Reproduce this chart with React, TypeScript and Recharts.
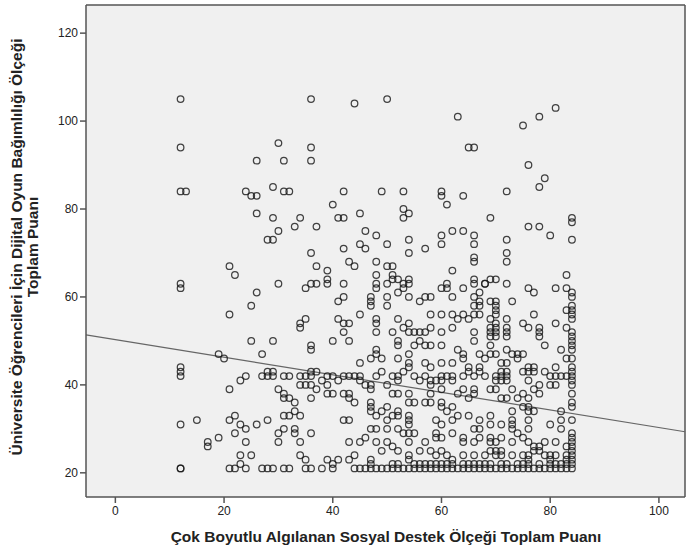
import React from 'react';
import { ScatterChart, Scatter, XAxis, YAxis, CartesianGrid, ReferenceLine } from 'recharts';

type Pt = [number, number];

// support score (x) / addiction score (y)
const topScores: Pt[] = [
  [12, 105], [12, 94], [30, 95], [26, 91], [31, 91], [36, 105], [44, 104], [50, 105],
  [63, 101], [65, 94], [66, 94], [36, 94], [36, 91], [75, 99], [78, 101], [81, 103],
  [76, 90], [79, 87], [78, 85], [29, 85],
];

const lowSupport: Pt[] = [
  [12, 84], [13, 84], [24, 84], [25, 83], [26, 83], [31, 84], [26, 79], [29, 78], [30, 75],
  [28, 73], [29, 73], [21, 67], [22, 65], [12, 63], [12, 62], [30, 63], [26, 61], [25, 58],
  [21, 56], [25, 50], [29, 50], [19, 47], [20, 46], [27, 47], [12, 44], [12, 43], [12, 42],
  [23, 41], [24, 42], [27, 42], [28, 43], [28, 42], [29, 43], [29, 42], [31, 42], [21, 39],
  [30, 39], [31, 37], [12, 31], [15, 32], [21, 32], [22, 33], [23, 31], [24, 30], [26, 31],
  [28, 32], [22, 29], [30, 29], [31, 30], [31, 33], [17, 27], [17, 26], [19, 28], [24, 27],
  [30, 27], [23, 24], [25, 24], [23, 22], [12, 21], [12, 21], [21, 21], [22, 21], [24, 21],
  [27, 21], [28, 21], [29, 21], [31, 21],
];

const midUpper: Pt[] = [
  [32, 84], [42, 84], [49, 84], [53, 84], [60, 84], [60, 83], [64, 83], [40, 81], [61, 81],
  [34, 78], [41, 78], [42, 78], [45, 79], [53, 80], [54, 79], [53, 78], [33, 76], [37, 76],
  [46, 75], [48, 74], [62, 75], [64, 75], [60, 74], [66, 74], [54, 73], [45, 72], [50, 72],
  [60, 72], [66, 72], [42, 71], [46, 71], [57, 71], [36, 70], [54, 70], [66, 69], [66, 68],
  [43, 68], [44, 67], [48, 68], [37, 67], [50, 67], [51, 67], [39, 66], [62, 66], [48, 65],
  [51, 65], [39, 64], [39, 63], [51, 64], [52, 64], [54, 64], [66, 64], [36, 63], [37, 63],
  [35, 62], [42, 63], [48, 63], [48, 62], [50, 63], [53, 63], [54, 63], [61, 63], [66, 63],
  [68, 63], [53, 62], [60, 62], [61, 62], [64, 62], [52, 61], [67, 61], [42, 60], [41, 59],
  [47, 60], [47, 59], [47, 58], [50, 60], [54, 60], [56, 59], [57, 60], [58, 60], [62, 60],
  [66, 60], [67, 59], [66, 58], [67, 58], [50, 58], [45, 56], [52, 55], [58, 56], [60, 56],
  [62, 56], [64, 56], [65, 55], [63, 55], [66, 56], [67, 56], [34, 54], [34, 53], [35, 55],
  [41, 55], [42, 54], [43, 54], [48, 55], [48, 54], [53, 53], [54, 54], [58, 53], [62, 53],
  [42, 52], [48, 52], [51, 52], [54, 52], [55, 52], [56, 52], [57, 52], [60, 52], [66, 52],
];

const highUpper: Pt[] = [
  [72, 84], [69, 78], [76, 76], [78, 76], [80, 74], [84, 78], [84, 77], [84, 73], [72, 73],
  [72, 70], [72, 68], [69, 64], [70, 64], [68, 63], [72, 63], [83, 65], [76, 62], [77, 61],
  [81, 62], [83, 62], [84, 61], [84, 60], [69, 59], [70, 59], [73, 59], [70, 58], [70, 57],
  [70, 56], [83, 57], [84, 58], [84, 57], [84, 56], [84, 55], [77, 56], [69, 55], [72, 55],
  [75, 54], [76, 53], [78, 53], [81, 54], [83, 53], [69, 53], [70, 54], [70, 53], [72, 53],
  [69, 52], [70, 52], [72, 52], [78, 52], [84, 52],
];

const midLower: Pt[] = [
  [36, 49], [36, 48], [40, 50], [43, 50], [48, 48], [48, 47], [47, 46], [49, 46], [45, 45],
  [52, 50], [52, 49], [54, 47], [54, 45], [54, 44], [55, 49], [56, 50], [57, 49], [58, 49],
  [57, 45], [58, 44], [60, 49], [60, 45], [62, 45], [63, 48], [64, 47], [64, 46], [66, 50],
  [67, 47], [65, 44], [67, 44], [52, 46], [32, 42], [34, 42], [35, 42], [36, 43], [36, 42],
  [37, 43], [38, 41], [39, 42], [40, 42], [41, 41], [42, 42], [43, 42], [44, 42], [45, 42],
  [45, 41], [46, 40], [47, 40], [47, 39], [48, 42], [49, 43], [50, 40], [51, 42], [52, 42],
  [52, 41], [53, 43], [55, 42], [56, 41], [57, 42], [58, 41], [58, 40], [59, 41], [60, 42],
  [60, 41], [61, 42], [62, 42], [62, 41], [64, 42], [65, 43], [66, 42], [67, 43], [68, 42],
  [34, 40], [35, 40], [36, 40], [39, 40], [37, 39], [31, 38], [32, 37], [36, 37], [39, 38],
  [40, 38], [42, 38], [43, 38], [43, 37], [44, 36], [51, 38], [52, 38], [54, 38], [58, 38],
  [60, 39], [63, 38], [66, 39], [66, 38], [64, 39], [33, 36], [32, 33], [33, 34], [34, 33],
  [42, 32], [43, 32], [33, 30], [33, 29], [34, 27], [36, 29], [43, 27], [34, 24], [35, 23],
  [39, 23], [41, 23], [43, 23], [40, 22], [32, 21], [35, 21], [36, 21], [38, 21], [40, 21],
];

const highLower: Pt[] = [
  [84, 51], [84, 50], [84, 49], [84, 48], [84, 46], [84, 44], [84, 43], [84, 42], [84, 41],
  [84, 40], [84, 38], [69, 51], [70, 51], [72, 51], [78, 51], [79, 49], [82, 48], [69, 49],
  [69, 47], [70, 47], [72, 48], [73, 47], [74, 47], [75, 47], [68, 46], [71, 45], [72, 45],
  [74, 46], [83, 46], [76, 44], [77, 44], [81, 44], [71, 43], [72, 43], [70, 42], [71, 42],
  [72, 42], [75, 43], [76, 43], [77, 43], [79, 43], [80, 42], [81, 42], [82, 42], [83, 42],
  [76, 41], [70, 41], [71, 41], [72, 41], [78, 40], [80, 40], [81, 40], [69, 39], [70, 39],
  [73, 39], [77, 39], [72, 37], [75, 38], [78, 38], [69, 31],
];

// bottom band, x >= 44 and y <= 37
const denseBottom: Pt[] = [
  [47, 36], [47, 35], [47, 34], [49, 34], [50, 35], [52, 34], [54, 36], [55, 36], [57, 36],
  [58, 36], [60, 36], [60, 35], [61, 34], [62, 35], [65, 37], [71, 37], [74, 37], [76, 37],
  [76, 35], [76, 34], [77, 34], [75, 35], [73, 34], [82, 34], [84, 36], [84, 35],
  [48, 33], [50, 32], [51, 33], [52, 33], [54, 33], [54, 32], [54, 31], [59, 32], [60, 31],
  [62, 32], [63, 33], [65, 33], [67, 32], [67, 30], [66, 30], [69, 33], [73, 32], [73, 31],
  [76, 32], [80, 31], [82, 32], [84, 32],
  [47, 30], [48, 30], [50, 30], [52, 30], [53, 29], [54, 29], [55, 29], [59, 29], [59, 28],
  [62, 29], [64, 28], [67, 28], [69, 28], [71, 31], [73, 30], [74, 29], [75, 28], [76, 30],
  [82, 30], [84, 29], [84, 28],
  [45, 27], [46, 28], [48, 27], [50, 27], [54, 27], [57, 27], [60, 28], [64, 27], [66, 27],
  [69, 27], [70, 27], [71, 28], [73, 27], [76, 27], [77, 26], [78, 26], [79, 27], [81, 27],
  [83, 26], [84, 27], [84, 26],
  [44, 24], [47, 23], [49, 25], [51, 26], [52, 25], [54, 24], [54, 23], [56, 25], [58, 25],
  [59, 24], [60, 25], [61, 24], [62, 23], [64, 24], [66, 24], [68, 24], [69, 25], [70, 25],
  [70, 24], [71, 25], [71, 24], [73, 24], [75, 24], [76, 24], [76, 23], [77, 25], [78, 25],
  [79, 24], [80, 24], [80, 23], [81, 24], [83, 24], [83, 23], [84, 25], [84, 24], [84, 23],
  [47, 22], [51, 22], [52, 22], [55, 22], [56, 22], [57, 22], [58, 22], [59, 22], [60, 22],
  [61, 22], [62, 22], [64, 22], [65, 22], [66, 22], [67, 22], [68, 22], [69, 22], [71, 22],
  [72, 22], [74, 22], [75, 22], [76, 22], [78, 22], [80, 22], [81, 22], [82, 22], [83, 22],
  [84, 22],
  [44, 21], [45, 21], [46, 21], [47, 21], [48, 21], [49, 21], [50, 21], [51, 21], [52, 21],
  [53, 21], [54, 21], [55, 21], [56, 21], [57, 21], [58, 21], [59, 21], [60, 21], [61, 21],
  [62, 21], [63, 21], [64, 21], [65, 21], [66, 21], [67, 21], [68, 21], [69, 21], [70, 21],
  [71, 21], [72, 21], [73, 21], [74, 21], [75, 21], [76, 21], [77, 21], [78, 21], [79, 21],
  [80, 21], [81, 21], [82, 21], [83, 21], [84, 21],
];

const xTicks = [0, 20, 40, 60, 80, 100];
const yTicks = [20, 40, 60, 80, 100, 120];
const xDomain: [number, number] = [-5.4, 104.8];
const yDomain: [number, number] = [14.5, 126.4];

// fit line
const fitIntercept = 50.3;
const fitSlope = -0.2;

const points = [
  ...topScores, ...lowSupport, ...midUpper, ...highUpper, ...midLower, ...highLower, ...denseBottom,
].map(([x, y]) => ({ x, y }));

const fitAt = (x: number) => fitIntercept + fitSlope * x;

const font = "'Liberation Sans', Arial, sans-serif";
const frame = '#555';

const Ring = (props: any) => (
  <circle cx={props.cx} cy={props.cy} r={3.3} fill="none" stroke="#1a1a1a" strokeOpacity={0.82} strokeWidth={1.25} />
);

export default function App() {
  return (
    <div style={{ position: 'absolute', left: 0, top: 0, width: 686, height: 553, background: '#fff', fontFamily: font }}>
      <ScatterChart width={686} height={553} margin={{ top: 5, right: 1, bottom: 0, left: 0 }}>
        <CartesianGrid horizontal={false} vertical={false} fill="#f0f0f0" fillOpacity={1} />
        <XAxis
          type="number"
          dataKey="x"
          domain={xDomain}
          allowDataOverflow
          ticks={xTicks}
          height={56}
          tickSize={6}
          tickMargin={3}
          stroke={frame}
          strokeWidth={1.5}
          tick={{ fontSize: 12, fill: '#222', fontFamily: font }}
        />
        <YAxis
          type="number"
          dataKey="y"
          domain={yDomain}
          allowDataOverflow
          ticks={yTicks}
          width={86}
          tickSize={6}
          tickMargin={2}
          stroke={frame}
          strokeWidth={1.5}
          tick={{ fontSize: 12, fill: '#222', fontFamily: font }}
        />
        <ReferenceLine y={yDomain[1]} stroke={frame} strokeWidth={1.5} />
        <ReferenceLine x={xDomain[1]} stroke={frame} strokeWidth={1.5} />
        <ReferenceLine
          segment={[
            { x: xDomain[0], y: fitAt(xDomain[0]) },
            { x: xDomain[1], y: fitAt(xDomain[1]) },
          ]}
          stroke="#666"
          strokeWidth={1.2}
        />
        <Scatter data={points} shape={Ring} isAnimationActive={false} />
      </ScatterChart>
      <div
        style={{
          position: 'absolute',
          left: 0,
          width: 686 + 86,
          top: 528,
          textAlign: 'center',
          fontSize: 15.5,
          fontWeight: 'bold',
          lineHeight: '18px',
          color: '#222',
          whiteSpace: 'nowrap',
        }}
      >
        Çok Boyutlu Algılanan Sosyal Destek Ölçeği Toplam Puanı
      </div>
      <div style={{ position: 'absolute', left: 25, top: 247, width: 0, height: 0 }}>
        <div
          style={{
            position: 'absolute',
            left: -250,
            top: -16,
            width: 500,
            textAlign: 'center',
            transform: 'rotate(-90deg)',
            fontSize: 15.5,
            fontWeight: 'bold',
            lineHeight: '16px',
            color: '#222',
            whiteSpace: 'nowrap',
          }}
        >
          Üniversite Öğrencileri İçin Dijital Oyun Bağımlılığı Ölçeği
          <br />
          Toplam Puanı
        </div>
      </div>
    </div>
  );
}
